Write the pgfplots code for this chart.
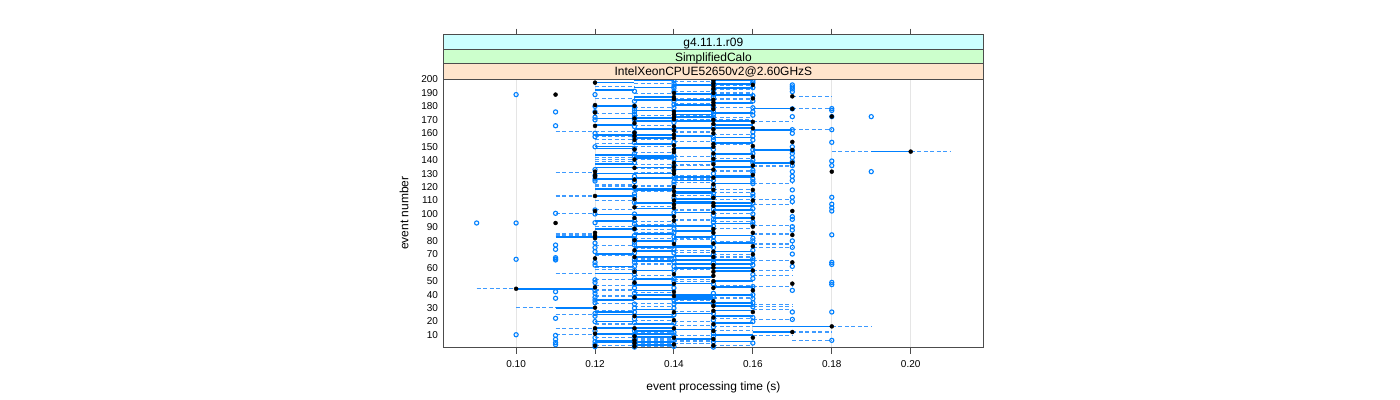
\documentclass[border=0pt]{standalone}
\usepackage{fontspec}
\setmainfont{Liberation Sans}
\usepackage{pgfplots}
\usepackage{pgfplotstable}
\pgfplotsset{compat=1.18}
\definecolor{lblue}{HTML}{0080FF}
\definecolor{dblue}{HTML}{3D9AFF}
\definecolor{stripA}{HTML}{FFE5CC}
\definecolor{stripB}{HTML}{CCFFCC}
\definecolor{stripC}{HTML}{CCFFFF}

\pgfplotstableread{
x1 x2 y
0.12 0.13 197.7
0.13 0.14 199.5
0.15 0.16 196.5
0.15 0.16 193.8
0.13 0.15 184.6
0.15 0.16 182.2
0.15 0.16 183.0
0.12 0.13 180.1
0.16 0.17 178.4
0.13 0.16 169.4
0.14 0.16 164
0.16 0.17 162.7
0.12 0.14 159
0.13 0.14 156.5
0.15 0.16 153
0.12 0.13 150.3
0.12 0.13 166
0.14 0.15 174
0.14 0.15 176.5
0.13 0.14 171.5
0.12 0.13 148.6
0.16 0.17 147.6
0.19 0.20 146.4
0.15 0.16 144.4
0.13 0.14 141.7
0.16 0.17 137.7
0.12 0.14 134.5
0.14 0.15 133.2
0.12 0.14 130.2
0.12 0.13 125.8
0.15 0.16 122.6
0.14 0.15 116.2
0.14 0.15 115.5
0.12 0.13 113.4
0.13 0.16 108.4
0.15 0.16 106.3
0.15 0.16 105.7
0.12 0.14 99.7
0.15 0.16 139.5
0.14 0.16 127.5
0.13 0.15 119
0.14 0.15 111
0.13 0.14 98.8
0.15 0.16 97
0.14 0.15 91.3
0.12 0.13 88.8
0.14 0.15 87.1
0.11 0.13 83.1
0.13 0.14 80.1
0.15 0.16 78.2
0.13 0.14 72.7
0.14 0.15 69
0.13 0.14 68.2
0.14 0.15 62.8
0.15 0.16 57.8
0.12 0.13 55.8
0.13 0.14 51.6
0.15 0.16 93
0.13 0.15 75.5
0.15 0.16 66
0.14 0.16 60
0.14 0.15 48.2
0.10 0.12 44.4
0.13 0.14 47.4
0.15 0.16 45.7
0.13 0.15 40
0.14 0.16 34
0.11 0.12 30.3
0.15 0.16 31.5
0.15 0.16 28.3
0.12 0.14 25.3
0.13 0.14 23.3
0.15 0.16 19.1
0.12 0.14 15.2
0.16 0.18 16.4
0.16 0.17 12.2
0.12 0.14 11
0.13 0.14 8.5
0.12 0.14 4.7
0.15 0.16 5.2
0.13 0.14 13
0.13 0.15 37
0.12 0.13 20
0.13 0.14 194
0.13 0.14 187
0.13 0.14 177
0.13 0.14 163
0.13 0.14 152
0.13 0.14 143
0.13 0.14 127
0.13 0.14 118
0.13 0.14 104
0.13 0.14 91
0.13 0.14 85
0.13 0.14 65
0.13 0.14 58
0.13 0.14 43
0.13 0.14 29
0.13 0.14 18
0.13 0.14 2.5
0.14 0.15 196
0.14 0.15 189
0.14 0.15 181
0.14 0.15 172
0.14 0.15 158
0.14 0.15 149
0.14 0.15 139
0.14 0.15 125
0.14 0.15 109
0.14 0.15 101
0.14 0.15 83
0.14 0.15 76
0.14 0.15 66
0.14 0.15 53
0.14 0.15 38
0.14 0.15 26
0.14 0.15 14
0.14 0.15 7
0.15 0.16 199.2
0.15 0.16 188.5
0.15 0.16 175
0.15 0.16 166
0.15 0.16 157
0.15 0.16 135
0.15 0.16 128.5
0.15 0.16 113
0.15 0.16 103
0.15 0.16 84
0.15 0.16 72
0.15 0.16 63
0.15 0.16 50
0.15 0.16 40
0.15 0.16 24
0.15 0.16 10
0.12 0.13 192
0.12 0.13 171
0.12 0.13 144
0.12 0.13 137
0.12 0.13 118.5
0.12 0.13 95
0.12 0.13 70
0.12 0.13 61
0.12 0.13 36
0.12 0.13 27
0.12 0.13 6
}\solidsegs

\pgfplotstableread{
x1 x2 y
0.15 0.16 195.7
0.14 0.15 191
0.15 0.16 190
0.17 0.18 187.5
0.14 0.15 185.8
0.17 0.18 178.4
0.12 0.13 166.5
0.16 0.17 168.5
0.11 0.13 161.5
0.17 0.18 162.7
0.12 0.13 157.5
0.12 0.14 155.5
0.14 0.16 170.5
0.13 0.15 173
0.18 0.19 146.4
0.20 0.21 146.4
0.13 0.14 145.6
0.12 0.14 141.9
0.12 0.14 140.7
0.16 0.17 135.7
0.13 0.14 133.8
0.11 0.12 130.7
0.14 0.15 123.3
0.16 0.17 122.5
0.12 0.14 120.8
0.15 0.16 115.9
0.11 0.12 113.4
0.16 0.17 107.1
0.12 0.13 103.5
0.11 0.12 100.5
0.14 0.16 128.5
0.13 0.15 137
0.15 0.17 110.5
0.14 0.15 143
0.12 0.13 99.5
0.13 0.14 94.5
0.15 0.16 94.5
0.16 0.17 91.3
0.13 0.14 88.3
0.11 0.12 85.1
0.11 0.12 84.3
0.16 0.17 85.1
0.12 0.13 76.4
0.16 0.17 77.7
0.16 0.17 75.2
0.14 0.15 71.5
0.16 0.17 65.3
0.13 0.14 62.8
0.16 0.17 57.8
0.11 0.12 55.8
0.16 0.17 54
0.14 0.15 51.6
0.13 0.15 82
0.15 0.16 70
0.12 0.13 60
0.16 0.17 45.9
0.09 0.10 44.4
0.12 0.13 46.9
0.12 0.13 44
0.12 0.13 43
0.15 0.16 34.5
0.12 0.14 33.3
0.10 0.11 30.3
0.16 0.17 33
0.16 0.17 31.5
0.16 0.17 29
0.11 0.12 25.3
0.16 0.17 21.6
0.14 0.15 20.1
0.12 0.14 17.6
0.18 0.19 16.4
0.15 0.16 16.4
0.11 0.12 14.7
0.17 0.18 12.2
0.11 0.12 10.2
0.16 0.17 9.7
0.13 0.15 7
0.13 0.15 5.5
0.13 0.15 3.5
0.17 0.18 6
0.12 0.13 8
0.12 0.13 2
0.13 0.14 197
0.13 0.14 189.5
0.13 0.14 179.5
0.13 0.14 165.5
0.13 0.14 150.5
0.13 0.14 131
0.13 0.14 116.5
0.13 0.14 105.5
0.13 0.14 92.5
0.13 0.14 86.5
0.13 0.14 74
0.13 0.14 66.5
0.13 0.14 54.5
0.13 0.14 41.5
0.13 0.14 31
0.13 0.14 21
0.13 0.14 11.5
0.13 0.14 1.8
0.14 0.15 198.5
0.14 0.15 182.5
0.14 0.15 176
0.14 0.15 161
0.14 0.15 154
0.14 0.15 136
0.14 0.15 126
0.14 0.15 113.5
0.14 0.15 103
0.14 0.15 95.5
0.14 0.15 81
0.14 0.15 73
0.14 0.15 59
0.14 0.15 49.5
0.14 0.15 35.5
0.14 0.15 27.5
0.14 0.15 17
0.14 0.15 9.5
0.14 0.15 4
0.15 0.16 192.5
0.15 0.16 185.5
0.15 0.16 179
0.15 0.16 172
0.15 0.16 159
0.15 0.16 151.5
0.15 0.16 141.5
0.15 0.16 132
0.15 0.16 118
0.15 0.16 100.5
0.15 0.16 89.5
0.15 0.16 79.5
0.15 0.16 68
0.15 0.16 60.5
0.15 0.16 47
0.15 0.16 37.5
0.15 0.16 22.5
0.15 0.16 13.5
0.15 0.16 2.5
0.12 0.13 194.5
0.12 0.13 186
0.12 0.13 174.5
0.12 0.13 152.5
0.12 0.13 139
0.12 0.13 122
0.12 0.13 110
0.12 0.13 91
0.12 0.13 69
0.12 0.13 58.5
0.12 0.13 51
0.12 0.13 39
0.12 0.13 28.5
0.12 0.13 18.5
}\dashsegs

\pgfplotstableread{
x y
0.10 44.4
0.11 188.8
0.11 93.3
0.12 197.7
0.12 181
0.12 175.5
0.12 165.5
0.12 131.5
0.12 129
0.12 127.5
0.12 113.4
0.12 102.2
0.12 86
0.12 84
0.12 82
0.12 67
0.12 45.5
0.12 30.3
0.12 15
0.12 11
0.12 2
0.13 180.4
0.13 171
0.13 167.5
0.13 160.5
0.13 158
0.13 155.1
0.13 148
0.13 140.5
0.13 134.3
0.13 125.5
0.13 120.3
0.13 111
0.13 105
0.13 97
0.13 89
0.13 80.5
0.13 73
0.13 68
0.13 57
0.13 49
0.13 38
0.13 24
0.13 15
0.13 9
0.13 6
0.13 4
0.13 1.5
0.14 190
0.14 187
0.14 185.5
0.14 176
0.14 174
0.14 172
0.14 170.5
0.14 165
0.14 162
0.14 159
0.14 156.5
0.14 151
0.14 148
0.14 146
0.14 138
0.14 135
0.14 132
0.14 130
0.14 120
0.14 117
0.14 114
0.14 110
0.14 107
0.14 104.5
0.14 98
0.14 95
0.14 77.7
0.14 55.3
0.14 48
0.14 42
0.14 39
0.14 27
0.14 21
0.14 15
0.14 8
0.14 3
0.15 199.5
0.15 197
0.15 195
0.15 193
0.15 190
0.15 185
0.15 183
0.15 181
0.15 178
0.15 170
0.15 167
0.15 163
0.15 160
0.15 152
0.15 150
0.15 145
0.15 141
0.15 137
0.15 133
0.15 127
0.15 122
0.15 118
0.15 112
0.15 108
0.15 106
0.15 101
0.15 88.8
0.15 86
0.15 78
0.15 72
0.15 68
0.15 62
0.15 60
0.15 57
0.15 54
0.15 50
0.15 45
0.15 35
0.15 31.5
0.15 28
0.15 23
0.15 18
0.15 13
0.15 7
0.15 2.3
0.16 196
0.16 186
0.16 168.5
0.16 163.8
0.16 150.5
0.16 142.6
0.16 136
0.16 129
0.16 117.9
0.16 110
0.16 97
0.16 90.6
0.16 86
0.16 76
0.16 70
0.16 58
0.16 43.2
0.16 27.1
0.16 8
0.17 187.5
0.17 178.2
0.17 153.6
0.17 147.6
0.17 138.2
0.17 102.2
0.17 84.4
0.17 64
0.17 48.2
0.17 12.2
0.18 172.5
0.18 131.5
0.18 16.4
0.20 146.4
}\blackdots

\pgfplotstableread{
x y
0.09 93.3
0.10 188.8
0.10 93.3
0.10 66.3
0.10 10.2
0.11 175.9
0.11 165.6
0.11 100.5
0.11 76.9
0.11 73.7
0.11 67.5
0.11 66.5
0.11 65.8
0.11 42.2
0.11 37.3
0.11 22.4
0.11 9.7
0.11 6.8
0.11 4.3
0.11 2.8
0.12 188.8
0.12 180
0.12 176
0.12 172
0.12 170
0.12 160
0.12 157.5
0.12 150
0.12 133
0.12 128.5
0.12 126
0.12 124.5
0.12 103
0.12 100
0.12 93.5
0.12 78.4
0.12 75
0.12 72
0.12 64
0.12 62
0.12 51
0.12 49
0.12 43
0.12 41
0.12 38
0.12 36
0.12 34
0.12 26
0.12 24
0.12 20
0.12 13
0.12 8
0.12 5
0.12 3
0.12 1.3
0.13 191.3
0.13 183.8
0.13 180
0.13 178
0.13 176
0.13 174
0.13 172
0.13 170
0.13 165
0.13 160.5
0.13 157
0.13 153
0.13 148.6
0.13 145
0.13 143
0.13 138
0.13 128
0.13 124
0.13 119
0.13 115
0.13 113
0.13 108.5
0.13 100
0.13 95
0.13 92.5
0.13 88.8
0.13 84
0.13 81.5
0.13 79
0.13 77
0.13 71
0.13 66
0.13 64
0.13 61
0.13 58
0.13 55
0.13 52
0.13 48
0.13 45
0.13 41
0.13 38
0.13 33
0.13 30
0.13 27
0.13 22
0.13 19
0.13 13
0.13 10
0.13 7
0.13 3
0.13 1
0.14 199
0.14 197
0.14 195
0.14 193.5
0.14 191
0.14 184
0.14 181.5
0.14 179
0.14 168
0.14 163
0.14 153.5
0.14 143.5
0.14 141
0.14 136
0.14 133
0.14 127
0.14 124
0.14 122
0.14 112
0.14 101
0.14 92
0.14 89
0.14 86
0.14 83
0.14 80
0.14 74
0.14 71
0.14 67
0.14 64
0.14 61
0.14 58
0.14 52
0.14 50
0.14 45
0.14 36
0.14 33
0.14 30
0.14 25
0.14 19
0.14 12
0.14 10
0.14 6
0.14 1.5
0.15 198
0.15 192
0.15 189
0.15 187
0.15 179.5
0.15 176
0.15 174
0.15 172
0.15 164.5
0.15 157
0.15 155
0.15 148
0.15 143
0.15 139
0.15 130
0.15 125
0.15 120
0.15 115.5
0.15 113
0.15 103.5
0.15 99
0.15 96
0.15 94
0.15 91
0.15 83
0.15 80
0.15 75
0.15 70
0.15 66
0.15 64
0.15 48
0.15 41
0.15 38
0.15 33
0.15 26
0.15 21
0.15 16
0.15 11
0.15 9
0.15 5
0.15 1
0.16 199
0.16 197.5
0.16 194
0.16 188
0.16 184
0.16 179
0.16 176
0.16 173.5
0.16 161
0.16 158
0.16 155
0.16 147.7
0.16 145
0.16 140
0.16 138
0.16 132.5
0.16 131
0.16 126
0.16 124
0.16 122.6
0.16 115
0.16 113
0.16 108
0.16 104
0.16 100
0.16 94
0.16 92
0.16 82
0.16 80
0.16 73
0.16 67
0.16 65.3
0.16 62
0.16 55
0.16 52
0.16 46
0.16 40
0.16 37
0.16 34
0.16 31
0.16 23
0.16 20
0.16 4
0.17 196
0.17 194.5
0.17 193
0.17 191
0.17 178.2
0.17 172.4
0.17 162.7
0.17 160
0.17 150
0.17 147
0.17 145
0.17 142
0.17 139
0.17 136
0.17 131.5
0.17 128
0.17 125
0.17 117.9
0.17 112.4
0.17 109.2
0.17 98
0.17 96
0.17 90.6
0.17 88
0.17 80
0.17 75.2
0.17 70.2
0.17 61
0.17 43.2
0.17 27.1
0.17 21.6
0.18 178.4
0.18 177
0.18 172.4
0.18 162.7
0.18 153.3
0.18 139.4
0.18 136
0.18 112.4
0.18 107.3
0.18 104.6
0.18 102.2
0.18 84.5
0.18 64
0.18 62.5
0.18 49.1
0.18 47.5
0.18 27.1
0.18 6
0.19 172.4
0.19 131.5
}\circlepts

\begin{document}
\begin{tikzpicture}
\useasboundingbox (0bp,0bp) rectangle (1400bp,400bp);
\begin{axis}[
  at={(443.5bp,52.5bp)}, anchor=south west,
  scale only axis, width=539.8bp, height=268.5bp,
  xmin=0.0816, xmax=0.2184, ymin=0.7, ymax=200.4,
  xtick={0.10,0.12,0.14,0.16,0.18,0.20},
  xticklabels={0.10,0.12,0.14,0.16,0.18,0.20},
  xtick pos=left, xtick align=outside, major tick length=6bp,
  ytick={10,20,...,200}, ytick pos=left, ytick style={draw=none},
  /pgf/number format/assume math mode=true,
  xmajorgrids, grid style={draw=black!10, line width=0.8bp},
  axis line style={draw=black!70, line width=0.9bp},
  xtick style={draw=black!70, line width=0.9bp},
  ticklabel style={font=\fontsize{10bp}{12bp}\selectfont},
  xticklabel style={yshift=-3bp},
  yticklabel style={xshift=-2bp},
  xlabel={event processing time (s)},
  ylabel={event number},
  every axis x label/.style={at={(axis description cs:0.5,-0.147)}, anchor=center,
    font=\fontsize{12bp}{14bp}\selectfont},
  every axis y label/.style={at={(axis description cs:-0.0732,0.5)}, rotate=90, anchor=center,
    font=\fontsize{12bp}{14bp}\selectfont},
]
\addplot[draw=none, mark=none, color=dblue,
  error bars/.cd, x dir=plus, x explicit, error mark=none,
  error bar style={draw=dblue, line width=1.1bp, dash pattern=on 4bp off 2.5bp}]
  table[x=x1, y=y, x error expr=\thisrow{x2}-\thisrow{x1}] {\dashsegs};
\addplot[draw=none, mark=none, color=lblue,
  error bars/.cd, x dir=plus, x explicit, error mark=none,
  error bar style={draw=lblue, line width=1.7bp, solid}]
  table[x=x1, y=y, x error expr=\thisrow{x2}-\thisrow{x1}] {\solidsegs};
\addplot[only marks, mark=o, mark size=2.1bp, color=lblue,
  mark options={line width=1.1bp}] table[x=x, y=y] {\circlepts};
\addplot[only marks, mark=*, mark size=2bp, color=black] table[x=x, y=y] {\blackdots};
\end{axis}
\begin{axis}[
  at={(443.5bp,321bp)}, anchor=south west,
  scale only axis, width=539.8bp, height=44.3bp,
  xmin=0.0816, xmax=0.2184, ymin=0, ymax=3,
  xtick={0.10,0.12,0.14,0.16,0.18,0.20}, xticklabels={},
  xtick pos=right, xtick align=outside, major tick length=6bp,
  ytick=\empty, axis on top,
  axis line style={draw=black!70, line width=0.9bp},
  xtick style={draw=black!70, line width=0.9bp},
]
\fill[stripA] (rel axis cs:0,0) rectangle (rel axis cs:1,0.34);
\fill[stripB] (rel axis cs:0,0.34) rectangle (rel axis cs:1,0.667);
\fill[stripC] (rel axis cs:0,0.667) rectangle (rel axis cs:1,1);
\draw[black!70, line width=0.9bp] (rel axis cs:0,0.34) -- (rel axis cs:1,0.34);
\draw[black!70, line width=0.9bp] (rel axis cs:0,0.667) -- (rel axis cs:1,0.667);
\node[font=\fontsize{12bp}{14bp}\selectfont, text height=8.6bp, text depth=0bp, inner sep=0pt]
  at (rel axis cs:0.5,0.17) {IntelXeonCPUE52650v2@2.60GHzS};
\node[font=\fontsize{12bp}{14bp}\selectfont, text height=8.6bp, text depth=0bp, inner sep=0pt]
  at (rel axis cs:0.5,0.503) {SimplifiedCalo};
\node[font=\fontsize{12bp}{14bp}\selectfont, text height=8.6bp, text depth=0bp, inner sep=0pt]
  at (rel axis cs:0.5,0.833) {g4.11.1.r09};
\end{axis}
\end{tikzpicture}
\end{document}
